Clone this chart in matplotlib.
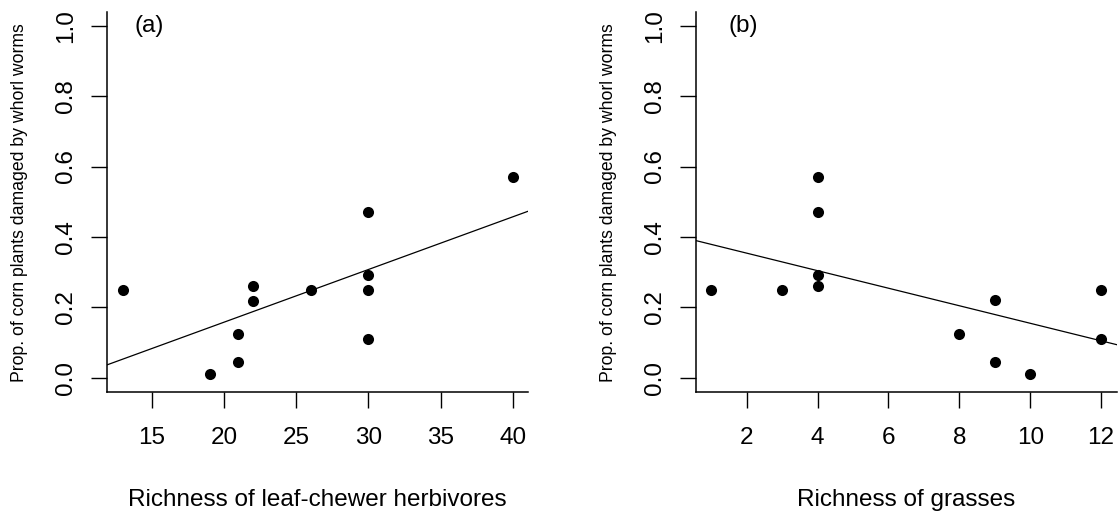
import numpy as np
import matplotlib
matplotlib.use("Agg")
import matplotlib.pyplot as plt

plt.rcParams['font.family'] = ['Liberation Sans', 'DejaVu Sans']

# Panel (a) data
herbivore_richness = [13, 19, 21, 21, 22, 22, 26, 30, 30, 30, 30, 40]
damage_a = [0.25, 0.01, 0.125, 0.043, 0.26, 0.218, 0.25, 0.47, 0.292, 0.25, 0.109, 0.571]

# Panel (b) data
grass_richness = [1, 3, 4, 4, 4, 4, 8, 9, 9, 10, 12, 12]
damage_b = [0.25, 0.25, 0.571, 0.47, 0.292, 0.26, 0.125, 0.22, 0.043, 0.01, 0.25, 0.109]

xticks_a = [15, 20, 25, 30, 35, 40]
xticks_b = [2, 4, 6, 8, 10, 12]
yticks = [0.0, 0.2, 0.4, 0.6, 0.8, 1.0]
ytick_labels = ["0.0", "0.2", "0.4", "0.6", "0.8", "1.0"]

ylabel = "Prop. of corn plants damaged by whorl worms"
xlabel_a = "Richness of leaf-chewer herbivores"
xlabel_b = "Richness of grasses"

W, H = 1119, 514
fig = plt.figure(figsize=(W / 100, H / 100), dpi=100)

FS = 17.5


def r_lim(vals):
    lo, hi = min(vals), max(vals)
    d = (hi - lo) * 0.04
    return lo - d, hi + d


def panel(left_px, x, y, xticks, xlabel, tag, tag_x):
    ax = fig.add_axes([left_px / W, (H - 391.7) / H, 421 / W, 380 / H])
    xl = r_lim(x)
    yl = r_lim([0.0, 1.0])
    ax.set_xlim(*xl)
    ax.set_ylim(*yl)
    ax.scatter(x, y, s=64, color='black', zorder=3, linewidths=0)
    slope, intercept = np.polyfit(x, y, 1)
    xs = np.array(xl)
    ax.plot(xs, intercept + slope * xs, color='black', lw=0.9)
    for s in ['top', 'right']:
        ax.spines[s].set_visible(False)
    for s in ['left', 'bottom']:
        ax.spines[s].set_linewidth(1.1)
    ax.set_xticks(xticks)
    ax.set_xticklabels([str(t) for t in xticks], fontsize=FS)
    ax.set_yticks(yticks)
    ax.set_yticklabels(ytick_labels, fontsize=FS, rotation=90, va='center')
    ax.tick_params(axis='x', length=11.5, width=1.0, pad=14)
    ax.tick_params(axis='y', length=11.5, width=1.0, pad=10)
    ax.text(tag_x, 1.0, tag, fontsize=FS, ha='center', va='center')
    # axis labels
    fig.text((left_px - 87.3) / W, 1 - 203 / H, ylabel, rotation=90,
             ha='center', va='center', fontsize=12.7)
    fig.text((left_px + 210.5) / W, 1 - 506 / H, xlabel, ha='center',
             va='baseline', fontsize=FS)
    return ax


panel(107.3, herbivore_richness, damage_a, xticks_a, xlabel_a, "(a)", 14.85)
panel(695.7, grass_richness, damage_b, xticks_b, xlabel_b, "(b)", 1.9)

fig.savefig("out.png", dpi=100)
